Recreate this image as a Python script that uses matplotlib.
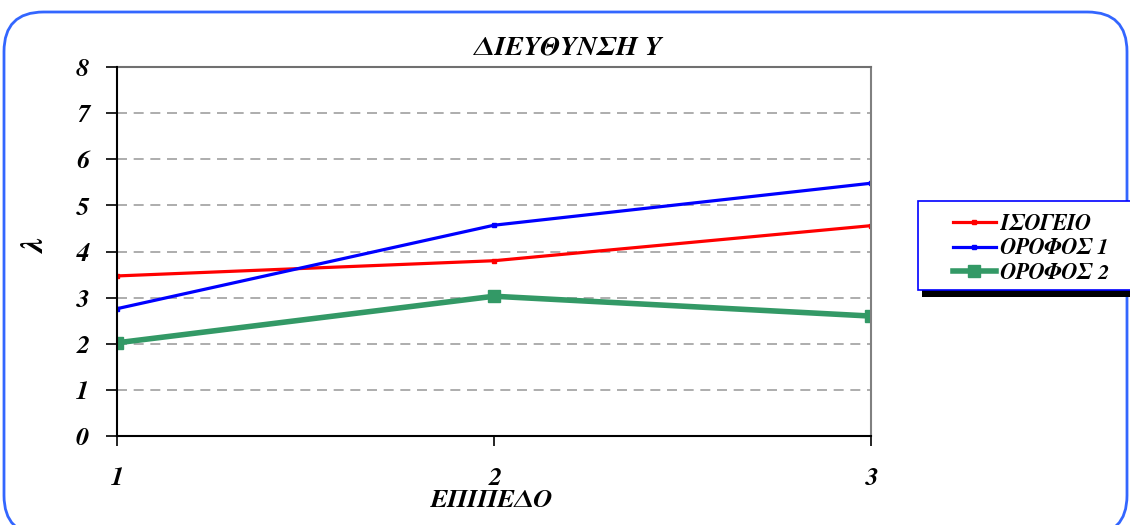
import matplotlib.pyplot as plt
from matplotlib.patches import FancyBboxPatch, Rectangle

# levels and lambda per floor
levels = [1, 2, 3]
isogeio = [3.47, 3.80, 4.56]
orofos1 = [2.76, 4.57, 5.48]
orofos2 = [2.02, 3.03, 2.60]
series_names = ["ΙΣΟΓΕΙΟ", "ΟΡΟΦΟΣ 1", "ΟΡΟΦΟΣ 2"]
yticks = [0, 1, 2, 3, 4, 5, 6, 7, 8]

W, H = 1130, 525
plt.rcParams['font.family'] = ['FreeSerif', 'DejaVu Serif']
fnt = dict(fontweight='bold', fontstyle='italic')

fig = plt.figure(figsize=(W / 100, H / 100), dpi=100)

# rounded outer frame
frame = FancyBboxPatch((4 / W, -10 / H), 1123 / W, (H - 12 + 10) / H,
                       boxstyle="round,pad=0,rounding_size=0.035",
                       transform=fig.transFigure, fill=False,
                       edgecolor='#3366ff', linewidth=2, mutation_aspect=W / H)
fig.patches.append(frame)

ax = fig.add_axes([117 / W, 89 / H, (871 - 117) / W, (436 - 67) / H])

ax.plot(levels, isogeio, color='#ff0000', lw=2.3, marker='s', ms=3.5,
        label=series_names[0])
ax.plot(levels, orofos1, color='#0000ff', lw=2.3, marker='s', ms=3.5,
        label=series_names[1])
ax.plot(levels, orofos2, color='#339966', lw=4.0, marker='s', ms=8.5,
        label=series_names[2])

ax.set_xlim(1, 3)
ax.set_ylim(0, 8)
ax.set_xticks(levels)
ax.set_yticks(yticks)
for y in yticks[1:-1]:
    ax.axhline(y, color='#a0a0a0', lw=1.2, ls=(0, (6, 4)), zorder=0)

ax.spines['top'].set_color('#707070')
ax.spines['right'].set_color('#808080')
for s in ['top', 'right', 'left', 'bottom']:
    ax.spines[s].set_linewidth(1.5)
ax.spines['left'].set_zorder(5)
ax.spines['bottom'].set_zorder(5)

ax.tick_params(axis='y', length=8, width=1.2, pad=12, labelsize=19)
ax.tick_params(axis='x', length=7, width=1.2, pad=15, labelsize=19)
for lab in ax.get_xticklabels() + ax.get_yticklabels():
    lab.set_fontweight('bold')
    lab.set_fontstyle('italic')

fig.text(567 / W, 1 - 47 / H, "ΔΙΕΥΘΥΝΣΗ Υ", ha='center', va='center',
         fontsize=20, **fnt)
fig.text(490 / W, 1 - 500 / H, "ΕΠΙΠΕΔΟ", ha='center', va='center',
         fontsize=19, **fnt)
fig.text(35 / W, 1 - 245 / H, "λ", ha='center', va='center', rotation=90,
         fontsize=22, **fnt)

# legend box with a dark shadow along the bottom
fig.patches.append(Rectangle((922 / W, 1 - 297 / H), (W - 922) / W, 8 / H,
                             transform=fig.transFigure, facecolor='black',
                             edgecolor='none', zorder=1))
fig.patches.append(Rectangle((918 / W, 1 - 290 / H), (W - 918 + 5) / W, 89 / H,
                             transform=fig.transFigure, facecolor='white',
                             edgecolor='#0000ff', linewidth=1.2, zorder=2))
leg = fig.legend(loc='upper left', bbox_to_anchor=(940 / W, 1 - 201 / H),
                 frameon=False, prop=dict(family='FreeSerif',
                                          weight='bold', style='italic',
                                          size=16),
                 handlelength=1.9, handletextpad=0.2, labelspacing=0.22,
                 borderpad=0.1)
leg.set_zorder(3)

fig.savefig("out.png", dpi=100)
